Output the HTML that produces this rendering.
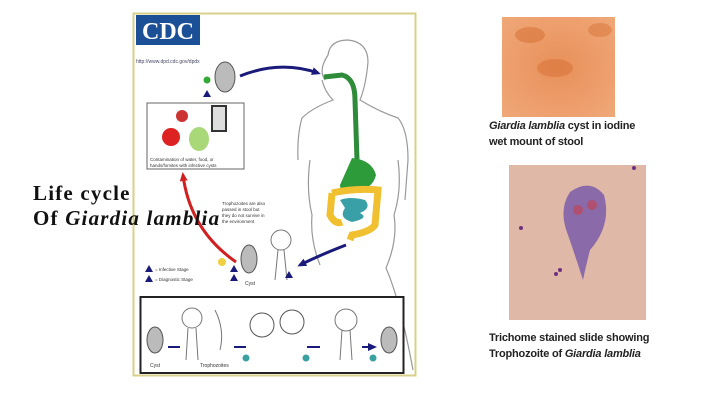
<!DOCTYPE html>
<html><head><meta charset="utf-8"><style>
html,body{margin:0;padding:0;background:#fff;width:720px;height:404px;overflow:hidden;position:relative;font-family:"Liberation Sans",sans-serif}
.t{position:absolute;left:33px;font-family:"Liberation Serif",serif;font-weight:bold;font-size:21px;color:#111;letter-spacing:1.2px;white-space:nowrap}
.cap{position:absolute;left:489px;font-size:11px;color:#222;font-weight:bold;line-height:16px;white-space:nowrap;letter-spacing:-0.2px}
</style></head><body>
<svg width="720" height="404" style="position:absolute;left:0;top:0">
<defs>
<marker id="ab" markerUnits="userSpaceOnUse" markerWidth="9" markerHeight="8" refX="6" refY="4" orient="auto"><path d="M0,0 L9,4 L0,8z" fill="#1a1a7a"/></marker>
<marker id="ar" markerUnits="userSpaceOnUse" markerWidth="9" markerHeight="8" refX="6" refY="4" orient="auto"><path d="M0,0 L9,4 L0,8z" fill="#d02020"/></marker>
<radialGradient id="og" cx="50%" cy="50%" r="70%"><stop offset="0" stop-color="#e8905a"/><stop offset="1" stop-color="#f0a878"/></radialGradient>
</defs>
<rect x="133.5" y="13.5" width="282" height="362" fill="#fff" stroke="#d8d088" stroke-width="2"/>
<rect x="136" y="15" width="64" height="30" fill="#1b4f96"/>
<text x="168" y="39" font-family="Liberation Serif,serif" font-size="24" fill="#fff" text-anchor="middle" font-weight="bold">CDC</text>
<text x="136" y="63" font-size="5" fill="#446">http://www.dpd.cdc.gov/dpdx</text>
<ellipse cx="225" cy="77" rx="10" ry="15" fill="#bbb" stroke="#555"/>
<circle cx="207" cy="80" r="3.5" fill="#3a3"/>
<path d="M203,97 L207,90 L211,97z" fill="#1a1a7a"/>
<path d="M240,76 Q280,60 318,73" stroke="#1a1a7a" stroke-width="3" fill="none" marker-end="url(#ab)"/>
<rect x="147" y="103" width="97" height="66" fill="#fff" stroke="#666"/>
<circle cx="182" cy="116" r="6" fill="#c33"/>
<circle cx="171" cy="137" r="9" fill="#d22"/>
<ellipse cx="199" cy="139" rx="10" ry="12" fill="#a8d878"/>
<rect x="212" y="106" width="14" height="25" fill="#ddd" stroke="#333" stroke-width="2"/>
<text x="150" y="161" font-size="4.5" fill="#333">Contamination of water, food, or</text>
<text x="150" y="167" font-size="4.5" fill="#333">hands/fomites with infective cysts</text>
<path d="M236,262 Q190,230 183,175" stroke="#d02020" stroke-width="3" fill="none" marker-end="url(#ar)"/>
<path d="M325,80 Q318,70 328,55 Q330,40 348,40 Q368,42 368,62 Q366,85 360,100 Q380,112 398,118 Q408,130 408,160 L405,200 M322,80 Q325,92 333,100 Q312,108 302,118 Q297,135 298,160" stroke="#999" fill="none" stroke-width="1.2"/>
<path d="M310,160 Q306,190 312,215 Q310,240 320,265 M398,160 Q402,190 394,215 Q398,240 386,268 Q400,300 413,370" stroke="#999" fill="none" stroke-width="1.2"/>
<path d="M324,77 L342,75 Q355,78 355,100 L357,160" stroke="#2e8b3a" stroke-width="5" fill="none"/>
<path d="M352,158 Q372,160 376,175 Q372,192 350,190 Q340,192 340,185 Z" fill="#2e9b3a"/>
<path d="M332,193 Q355,188 378,190 L375,225 Q370,232 352,235 L350,240 M332,193 L330,215 Q335,225 342,222" stroke="#f0c030" stroke-width="7" fill="none"/>
<path d="M340,200 Q350,196 365,200 Q372,208 360,213 Q370,218 352,222 Q338,218 345,208 Z" fill="#3aa0a8"/>
<path d="M346,245 Q320,255 300,265" stroke="#1a1a7a" stroke-width="3" fill="none" marker-end="url(#ab)"/>
<text x="222" y="205" font-size="4.5" fill="#333">Trophozoites are also</text>
<text x="222" y="211" font-size="4.5" fill="#333">passed in stool but</text>
<text x="222" y="217" font-size="4.5" fill="#333">they do not survive in</text>
<text x="222" y="223" font-size="4.5" fill="#333">the environment</text>
<ellipse cx="249" cy="259" rx="8" ry="14" fill="#bbb" stroke="#555"/>
<circle cx="281" cy="240" r="10" fill="none" stroke="#777"/>
<path d="M278,250 L275,280 M284,250 L287,280" stroke="#777"/>
<circle cx="222" cy="262" r="4" fill="#f0d040"/>
<path d="M230,272 L234,265 L238,272z M230,281 L234,274 L238,281z M285,278 L289,271 L293,278z" fill="#1a1a7a"/>
<text x="245" y="285" font-size="5" fill="#333">Cyst</text>
<path d="M145,272 L149,265 L153,272z M145,282 L149,275 L153,282z" fill="#1a1a7a"/>
<text x="155" y="271" font-size="4.5" fill="#333">= Infective Stage</text>
<text x="155" y="281" font-size="4.5" fill="#333">= Diagnostic Stage</text>
<rect x="140.5" y="297" width="263" height="76" fill="#fff" stroke="#222" stroke-width="2"/>
<ellipse cx="155" cy="340" rx="8" ry="13" fill="#bbb" stroke="#555"/>
<text x="150" y="367" font-size="5" fill="#333">Cyst</text>
<circle cx="192" cy="318" r="10" fill="none" stroke="#777"/>
<path d="M188,328 L186,360 M196,328 L198,360" stroke="#777"/>
<path d="M215,310 Q225,330 220,350" stroke="#777" fill="none"/>
<text x="200" y="367" font-size="5" fill="#333">Trophozoites</text>
<circle cx="262" cy="325" r="12" fill="none" stroke="#555"/>
<circle cx="292" cy="322" r="12" fill="none" stroke="#555"/>
<circle cx="346" cy="320" r="11" fill="none" stroke="#777"/>
<path d="M342,330 L340,360 M350,330 L352,360" stroke="#777"/>
<ellipse cx="389" cy="340" rx="8" ry="13" fill="#bbb" stroke="#555"/>
<path d="M168,347 H180 M234,347 H246 M307,347 H320 M362,347 H374" stroke="#1a1a7a" stroke-width="2" marker-end="url(#ab)"/>
<circle cx="246" cy="358" r="3.5" fill="#3aa0a0"/><circle cx="306" cy="358" r="3.5" fill="#3aa0a0"/><circle cx="373" cy="358" r="3.5" fill="#3aa0a0"/>
<rect x="502" y="17" width="113" height="100" fill="url(#og)"/>
<ellipse cx="530" cy="35" rx="15" ry="8" fill="#d8743a" opacity=".6"/>
<ellipse cx="555" cy="68" rx="18" ry="9" fill="#d8743a" opacity=".6"/>
<ellipse cx="600" cy="30" rx="12" ry="7" fill="#d8743a" opacity=".5"/>
<rect x="509" y="165" width="137" height="155" fill="#e0b8a8"/>
<path d="M570,192 Q590,178 604,195 Q612,225 590,250 Q585,270 583,280 Q575,255 568,235 Q558,210 570,192z" fill="#8a6aa8"/>
<circle cx="578" cy="210" r="5" fill="#b05070"/><circle cx="592" cy="205" r="5" fill="#b05070"/>
<circle cx="521" cy="228" r="2" fill="#703080"/><circle cx="560" cy="270" r="2" fill="#703080"/><circle cx="556" cy="274" r="2" fill="#703080"/><circle cx="634" cy="168" r="2" fill="#703080"/>
</svg>
<div class="t" style="top:181px">Life cycle</div>
<div class="t" style="top:206px">Of <i>Giardia lamblia</i></div>
<div class="cap" style="top:118px"><i>Giardia lamblia</i> cyst in iodine<br>wet mount of stool</div>
<div class="cap" style="top:330px">Trichome stained slide showing<br>Trophozoite of <i>Giardia lamblia</i></div>
</body></html>
